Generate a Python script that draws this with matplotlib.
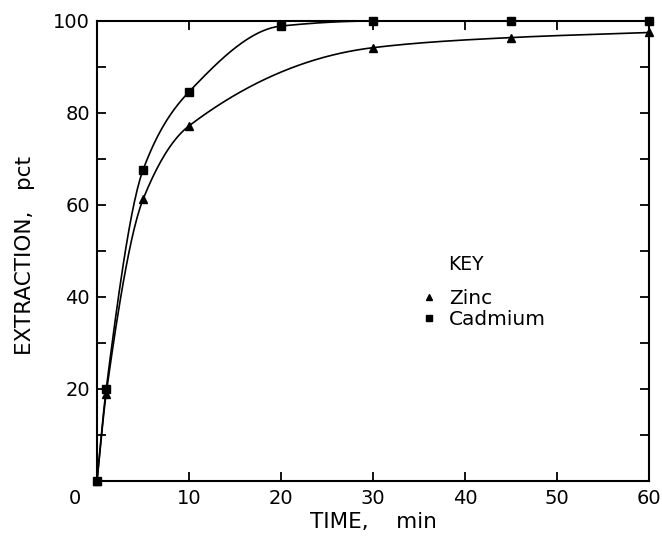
import numpy as np
import matplotlib
matplotlib.use('Agg')
import matplotlib.pyplot as plt
from matplotlib.ticker import MultipleLocator
from matplotlib.lines import Line2D
from matplotlib.transforms import ScaledTranslation

plt.rcParams['font.family'] = ['DejaVu Sans']

# data
zinc_time = [0, 1, 5, 10, 30, 45, 60]
zinc_pct = [0, 19, 61.2, 77.2, 94.2, 96.4, 97.5]
cd_time = [0, 1, 5, 10, 20, 30, 45, 60]
cd_pct = [0, 20, 67.6, 84.6, 98.9, 100, 100, 100]

x_ticks = [0, 10, 20, 30, 40, 50, 60]
y_ticks = [20, 40, 60, 80, 100]


def smooth(x, y, n=400):
    # monotone cubic (Fritsch-Carlson) so the line looks like the drawn curve
    x = np.asarray(x, float)
    y = np.asarray(y, float)
    h = np.diff(x)
    d = np.diff(y) / h
    m = np.zeros_like(y)
    for k in range(1, len(x) - 1):
        if d[k - 1] * d[k] <= 0:
            m[k] = 0
        else:
            w1 = 2 * h[k] + h[k - 1]
            w2 = h[k] + 2 * h[k - 1]
            m[k] = (w1 + w2) / (w1 / d[k - 1] + w2 / d[k])
    m[0] = d[0]
    m[-1] = d[-1]
    xs = np.linspace(x[0], x[-1], n)
    idx = np.clip(np.searchsorted(x, xs) - 1, 0, len(x) - 2)
    t = (xs - x[idx]) / h[idx]
    h00 = 2 * t**3 - 3 * t**2 + 1
    h10 = t**3 - 2 * t**2 + t
    h01 = -2 * t**3 + 3 * t**2
    h11 = t**3 - t**2
    ys = h00 * y[idx] + h10 * h[idx] * m[idx] + h01 * y[idx + 1] + h11 * h[idx] * m[idx + 1]
    return xs, ys


fig = plt.figure(figsize=(6.62, 5.4), dpi=100)
ax = fig.add_axes([97 / 662, 1 - 481 / 540, (649 - 97) / 662, (481 - 21) / 540])

for t, p, mk, ms in [(zinc_time, zinc_pct, '^', 5.5), (cd_time, cd_pct, 's', 6)]:
    xs, ys = smooth(t, p)
    ax.plot(xs, ys, color='black', linewidth=1.2, clip_on=False)
    ax.plot(t, p, linestyle='none', marker=mk, markersize=ms, color='black', clip_on=False, zorder=3)

ax.set_xlim(0, 60)
ax.set_ylim(0, 100)
ax.set_xticks(x_ticks)
ax.set_yticks(y_ticks)
ax.yaxis.set_minor_locator(MultipleLocator(10))
ax.tick_params(which='both', direction='in', length=6.5, width=1.3,
               top=True, right=True, labelsize=14)
ax.tick_params(axis='x', pad=6)
ax.tick_params(axis='y', pad=5)
for s in ax.spines.values():
    s.set_linewidth(1.5)

# the "0" label sits at the corner, left of the axis
lbl0 = ax.get_xticklabels()[0]
lbl0.set_transform(lbl0.get_transform() + ScaledTranslation(-0.22, 0, fig.dpi_scale_trans))

ax.set_xlabel('TIME,    min', fontsize=15.5)
ax.set_ylabel('EXTRACTION,   pct', fontsize=15.5)
ax.xaxis.set_label_coords(0.5, -0.068)
ax.yaxis.set_label_coords(-0.112, 0.49)

# key
ax.text(38.2, 47, 'KEY', fontsize=13.5, va='center', ha='left')
handles = [Line2D([], [], linestyle='none', marker='^', markersize=4.5, color='black'),
           Line2D([], [], linestyle='none', marker='s', markersize=5, color='black')]
ax.legend(handles, ['Zinc', 'Cadmium'], loc='upper left', bbox_to_anchor=(34.1 / 60, 0.44),
          frameon=False, fontsize=14.5, borderpad=0, handlelength=0.8,
          handletextpad=0.6, labelspacing=0.1)

fig.savefig('out.png', dpi=100)
